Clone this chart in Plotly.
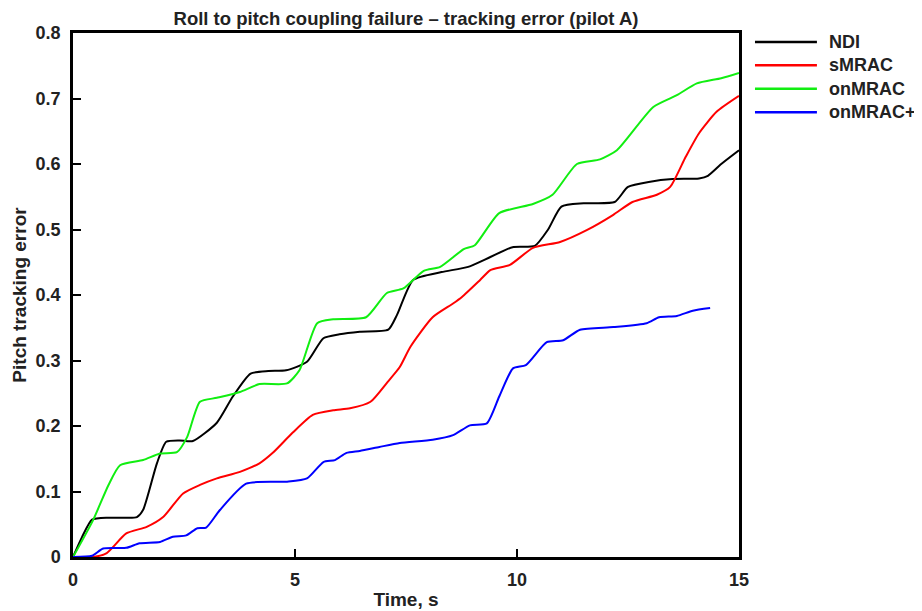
import plotly.graph_objects as go

# NDI
t_ndi = [0, 0.2, 0.43, 0.8, 1.2, 1.44, 1.58, 1.89, 2.1, 2.4, 2.7, 3.24, 3.6, 4.0, 4.4, 4.8, 5.27,
         5.64, 6.0, 6.46, 7.1, 7.3, 7.66, 8.3, 8.9, 9.4, 9.9, 10.4, 10.7, 11.0, 11.5, 12.2, 12.5,
         13.0, 13.5, 14.1, 14.3, 14.6, 15.0]
v_ndi = [0, 0.03, 0.057, 0.06, 0.06, 0.061, 0.072, 0.143, 0.176, 0.178, 0.177, 0.205, 0.245, 0.28,
         0.284, 0.285, 0.298, 0.334, 0.34, 0.344, 0.347, 0.37, 0.423, 0.435, 0.443, 0.458, 0.473,
         0.475, 0.5, 0.535, 0.54, 0.542, 0.565, 0.573, 0.577, 0.578, 0.582, 0.6, 0.621]

# sMRAC
t_smrac = [0, 0.45, 0.76, 1.2, 1.66, 2.03, 2.48, 2.86, 3.24, 3.76, 4.2, 4.5, 4.95, 5.4, 5.86, 6.24,
           6.7, 7.07, 7.36, 7.6, 8.1, 8.56, 8.76, 9.17, 9.4, 9.84, 10.36, 10.97, 11.57, 12.16,
           12.6, 13.15, 13.45, 13.8, 14.1, 14.5, 15.0]
v_smrac = [0, 0, 0.006, 0.036, 0.046, 0.061, 0.097, 0.11, 0.12, 0.13, 0.143, 0.159, 0.19, 0.217,
           0.224, 0.227, 0.237, 0.266, 0.29, 0.321, 0.366, 0.387, 0.397, 0.423, 0.438, 0.446, 0.472,
           0.481, 0.499, 0.522, 0.542, 0.553, 0.565, 0.611, 0.647, 0.68, 0.704]

# onMRAC
t_onmrac = [0, 0.45, 0.8, 1.06, 1.58, 1.96, 2.34, 2.57, 2.86, 3.24, 3.76, 4.2, 4.82, 5.1, 5.5, 5.86,
            6.6, 7.07, 7.44, 7.9, 8.27, 8.8, 9.05, 9.6, 10.36, 10.8, 11.35, 11.87, 12.25, 13.07,
            13.6, 14.05, 14.6, 15.0]
v_onmrac = [0, 0.056, 0.11, 0.14, 0.148, 0.158, 0.16, 0.183, 0.237, 0.243, 0.252, 0.264, 0.265,
            0.285, 0.357, 0.363, 0.366, 0.403, 0.41, 0.437, 0.443, 0.47, 0.476, 0.525, 0.539, 0.553,
            0.6, 0.607, 0.621, 0.687, 0.705, 0.723, 0.731, 0.739]

# onMRAC+
t_onmracp = [0, 0.43, 0.68, 1.2, 1.5, 1.96, 2.25, 2.55, 2.8, 3.0, 3.3, 3.9, 4.8, 5.27, 5.64, 5.9,
             6.16, 6.46, 6.9, 7.36, 8.1, 8.56, 8.94, 9.32, 9.6, 9.91, 10.2, 10.67, 11.04, 11.42,
             12.17, 12.92, 13.2, 13.6, 13.96, 14.35]
v_onmracp = [0, 0.002, 0.013, 0.014, 0.021, 0.023, 0.031, 0.033, 0.044, 0.045, 0.071, 0.112, 0.115,
             0.12, 0.145, 0.148, 0.159, 0.162, 0.168, 0.174, 0.179, 0.186, 0.201, 0.204, 0.245,
             0.288, 0.293, 0.328, 0.331, 0.347, 0.351, 0.357, 0.366, 0.368, 0.376, 0.38]

x_ticks = [0, 5, 10, 15]
y_ticks = [0, 0.1, 0.2, 0.3, 0.4, 0.5, 0.6, 0.7, 0.8]
y_labels = ["0", "0.1", "0.2", "0.3", "0.4", "0.5", "0.6", "0.7", "0.8"]

series = [
    ("NDI", t_ndi, v_ndi, "black"),
    ("sMRAC", t_smrac, v_smrac, "#ff0000"),
    ("onMRAC", t_onmrac, v_onmrac, "#11ee11"),
    ("onMRAC+", t_onmracp, v_onmracp, "#0000ff"),
]

font = "Liberation Sans, Arial, sans-serif"

fig = go.Figure()
for i, (name, t, v, color) in enumerate(series):
    fig.add_trace(go.Scatter(
        x=t, y=v, mode="lines", name=name, showlegend=False,
        line=dict(color=color, width=2, shape="spline", smoothing=0.6),
    ))
    # legend drawn by hand, to the right of the plot box (longer line samples)
    ly = 0.983 - i * 0.0447
    fig.add_shape(type="line", xref="paper", yref="paper",
                  x0=1.024, x1=1.117, y0=ly, y1=ly,
                  line=dict(color=color, width=2.5))
    fig.add_annotation(xref="paper", yref="paper", x=1.132, y=ly,
                       xanchor="left", yanchor="middle", showarrow=False,
                       text=f"<b>{name}</b>", font=dict(size=18, color="#222"))

axis_common = dict(
    showline=True, linecolor="black", linewidth=2.5, mirror=True,
    ticks="inside", ticklen=8, tickwidth=1.5, tickcolor="black",
    showgrid=False, zeroline=False, automargin=False,
    tickfont=dict(family=font, size=18, color="#222"),
)

fig.update_layout(
    width=922, height=611,
    # the page body has an 8px margin, so the plot box is shifted up/left by 8px
    margin=dict(l=65, r=191, t=25, b=62),
    paper_bgcolor="white", plot_bgcolor="white",
    font=dict(family=font, color="#222"),
    title=dict(text="<b>Roll to pitch coupling failure \u2013 tracking error (pilot A)</b>",
               x=0.5, xref="paper", xanchor="center", y=0.994, yanchor="top",
               pad=dict(t=0), font=dict(size=18.5, color="#222")),
    xaxis=dict(range=[0, 15], tickvals=x_ticks, ticktext=[f"<b>{v}</b>" for v in x_ticks],
               ticklabelstandoff=5,
               title=dict(text="<b>Time, s</b>", font=dict(size=19), standoff=4),
               **axis_common),
    yaxis=dict(range=[0, 0.8], tickvals=y_ticks, ticktext=[f"<b>{s}</b>" for s in y_labels],
               ticklabelstandoff=6,
               title=dict(text="<b>Pitch tracking error</b>", font=dict(size=19), standoff=4),
               **axis_common),
    showlegend=False,
)

fig.write_html("out.html")
